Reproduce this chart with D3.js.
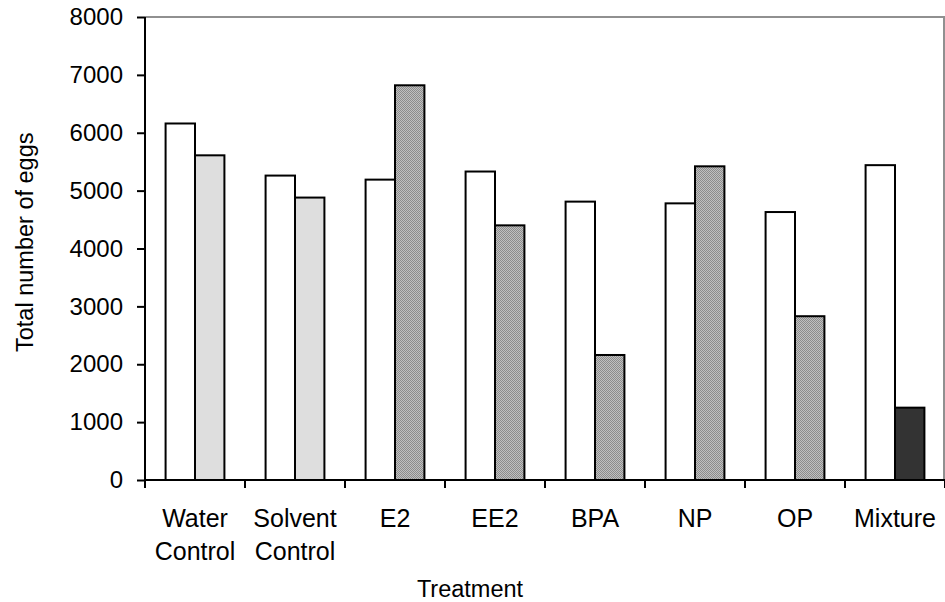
<!DOCTYPE html>
<html>
<head>
<meta charset="utf-8">
<script src="https://cdn.jsdelivr.net/npm/d3@7"></script>
<style>
  html, body { margin: 0; padding: 0; background: #fff; }
  svg { display: block; }
  text { font-family: "Liberation Sans", Arial, sans-serif; fill: #000; }
</style>
</head>
<body>
<svg id="chart" width="945" height="602"></svg>
<script>
const categories = ["Water Control", "Solvent Control", "E2", "EE2", "BPA", "NP", "OP", "Mixture"];
const seriesA = [6160, 5260, 5190, 5330, 4810, 4780, 4630, 5440];
const seriesB = [5610, 4880, 6820, 4400, 2160, 5420, 2830, 1250];
const seriesBFill = ["light", "light", "hatch", "hatch", "hatch", "hatch", "hatch", "dark"];
const yTicks = [0, 1000, 2000, 3000, 4000, 5000, 6000, 7000, 8000];
const yTitle = "Total number of eggs";
const xTitle = "Treatment";

(function () {
const svg = d3.select("#chart");
const mLeft = 145, mRight = 945, mTop = 17, mBottom = 480;

const defs = svg.append("defs");
const pat = defs.append("pattern").attr("id", "hatch")
  .attr("patternUnits", "userSpaceOnUse").attr("width", 2).attr("height", 2);
pat.append("rect").attr("width", 2).attr("height", 2).attr("fill", "#c0c0c0");
pat.append("rect").attr("x", 0).attr("y", 0).attr("width", 1).attr("height", 1).attr("fill", "#8c8c8c");
pat.append("rect").attr("x", 1).attr("y", 1).attr("width", 1).attr("height", 1).attr("fill", "#8c8c8c");

const fills = { light: "#dedede", hatch: "url(#hatch)", dark: "#333333" };

const x = d3.scaleBand().domain(categories).range([mLeft, mRight]).paddingInner(0).paddingOuter(0);
const xs = d3.scaleBand().domain(["A", "B"]).range([0, x.bandwidth()]).paddingInner(0).paddingOuter(0.7);
const y = d3.scaleLinear().domain([0, 8000]).range([mBottom, mTop]);

// plot border (top & right)
svg.append("path")
  .attr("d", `M${mLeft},${mTop}H${mRight - 1}V${mBottom}`)
  .attr("fill", "none").attr("stroke", "#909090").attr("stroke-width", 2);

// bars
const g = svg.append("g");
categories.forEach((c, i) => {
  g.append("rect")
    .attr("x", x(c) + xs("A")).attr("y", y(seriesA[i]))
    .attr("width", xs.bandwidth()).attr("height", y(0) - y(seriesA[i]))
    .attr("fill", "#ffffff").attr("stroke", "#000").attr("stroke-width", 2);
  g.append("rect")
    .attr("x", x(c) + xs("B")).attr("y", y(seriesB[i]))
    .attr("width", xs.bandwidth()).attr("height", y(0) - y(seriesB[i]))
    .attr("fill", fills[seriesBFill[i]]).attr("stroke", "#000").attr("stroke-width", 2);
});

// y axis
const yAxis = d3.axisLeft(y).tickValues(yTicks).tickSize(8).tickPadding(14).tickFormat(d3.format("d"));
const yg = svg.append("g").attr("transform", `translate(${mLeft},0)`).call(yAxis);
yg.select(".domain").attr("stroke", "#000").attr("stroke-width", 2).attr("d", `M0,${mTop}V${mBottom}`);
yg.selectAll(".tick line").attr("stroke", "#000").attr("stroke-width", 2);
yg.selectAll(".tick text").style("font-size", "24px").attr("fill", "#000")
  .style("font-family", "'Liberation Sans', Arial, sans-serif");

// x axis
const xTickPos = categories.map(c => x(c)).concat([mRight]);
const xg = svg.append("g");
xg.append("line").attr("x1", mLeft).attr("x2", mRight).attr("y1", mBottom).attr("y2", mBottom)
  .attr("stroke", "#000").attr("stroke-width", 2);
xg.selectAll("line.tk").data(xTickPos).enter().append("line").attr("class", "tk")
  .attr("x1", d => d).attr("x2", d => d).attr("y1", mBottom).attr("y2", mBottom + 8)
  .attr("stroke", "#000").attr("stroke-width", 2);

categories.forEach(c => {
  const lines = c.split(" ");
  const t = svg.append("text").attr("text-anchor", "middle")
    .attr("x", x(c) + x.bandwidth() / 2).attr("y", 527).style("font-size", "25px");
  lines.forEach((ln, j) => {
    t.append("tspan").attr("x", x(c) + x.bandwidth() / 2).attr("y", 527 + j * 33).text(ln);
  });
});

// titles
svg.append("text").attr("text-anchor", "middle").attr("x", 470).attr("y", 597)
  .style("font-size", "23.5px").text(xTitle);
svg.append("text").attr("text-anchor", "start")
  .attr("transform", "translate(33,352) rotate(-90)")
  .style("font-size", "23.5px").text(yTitle);
})();
</script>
</body>
</html>
